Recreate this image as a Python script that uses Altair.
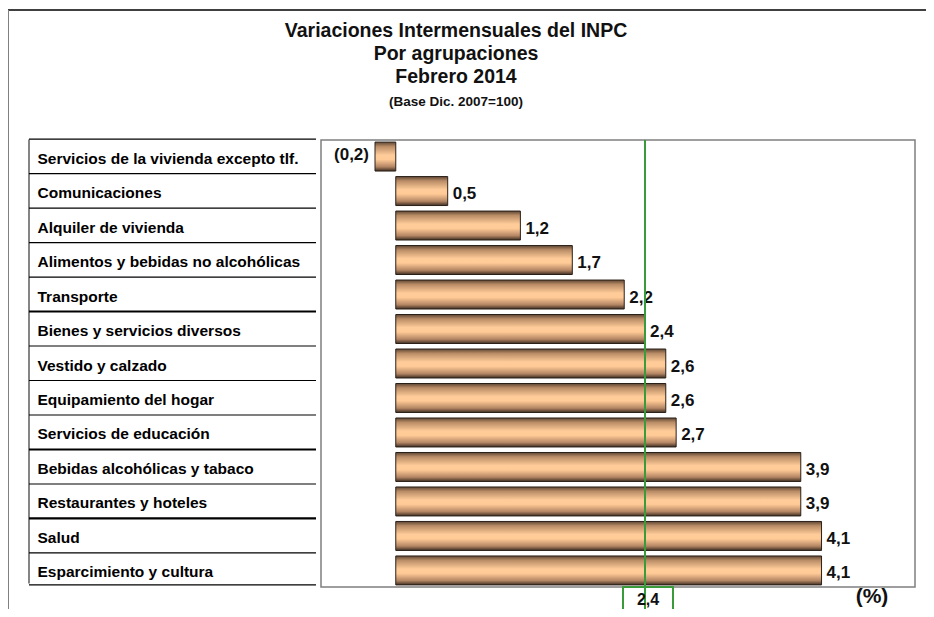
import altair as alt
import pandas as pd

# ---- data ----
categorias = [
    "Servicios de la vivienda excepto tlf.",
    "Comunicaciones",
    "Alquiler de vivienda",
    "Alimentos y bebidas no alcohólicas",
    "Transporte",
    "Bienes  y servicios diversos",
    "Vestido y calzado",
    "Equipamiento del hogar",
    "Servicios de educación",
    "Bebidas alcohólicas y tabaco",
    "Restaurantes y hoteles",
    "Salud",
    "Esparcimiento y cultura",
]
variaciones = [-0.2, 0.5, 1.2, 1.7, 2.2, 2.4, 2.6, 2.6, 2.7, 3.9, 3.9, 4.1, 4.1]
promedio = 2.4
titulos = ["Variaciones Intermensuales del INPC", "Por agrupaciones", "Febrero 2014"]
subtitulo = "(Base Dic. 2007=100)"
unidad = "(%)"


def fmt(v):
    s = f"{abs(v):.1f}".replace(".", ",")
    return f"({s})" if v < 0 else s


df = pd.DataFrame({"cat": categorias, "val": variaciones})
df["label"] = [fmt(v) for v in variaciones]
df["pos"] = df["val"] >= 0

thick_rows = ["Bienes  y servicios diversos", "Bebidas alcohólicas y tabaco", "Salud"]
df["lw"] = [2.2 if c in thick_rows else 1.2 for c in categorias]

W, H = 594, 447
FONT = "Liberation Sans"
NARROW = "'Liberation Sans Narrow', 'Arial Narrow', 'Liberation Sans', sans-serif"
GREEN = "#3a9b3a"

xs = alt.Scale(domain=[-0.72, 5.0], nice=False, zero=False)
ys = alt.Scale(domain=categorias, paddingInner=0.16, paddingOuter=0.06)

X = alt.X("val:Q", scale=xs, axis=None)
Y = alt.Y(
    "cat:N",
    scale=ys,
    sort=categorias,
    title=None,
    axis=alt.Axis(
        orient="left",
        domain=False,
        ticks=False,
        tickSize=0,
        labelAlign="left",
        labelBaseline="middle",
        labelPadding=284,
        labelLimit=320,
        labelFont=FONT,
        labelFontSize=15.5,
        labelFontWeight="bold",
        labelColor="#000000",
        labelOffset=2,
        grid=False,
    ),
)

grad = alt.Gradient(
    gradient="linear",
    x1=0, x2=0, y1=0, y2=1,
    stops=[
        alt.GradientStop(color="#5e4634", offset=0),
        alt.GradientStop(color="#b98c66", offset=0.15),
        alt.GradientStop(color="#ffcc99", offset=0.45),
        alt.GradientStop(color="#ffca96", offset=0.6),
        alt.GradientStop(color="#b48664", offset=0.85),
        alt.GradientStop(color="#3e2e22", offset=1),
    ],
)

base = alt.Chart(df)

bars = base.mark_bar(color=grad, stroke="#2b2018", strokeWidth=1).encode(
    x=X, x2=alt.datum(0), y=Y
)

lab_pos = base.transform_filter("datum.pos").mark_text(
    align="left", baseline="middle", dx=5, dy=3, font=FONT, fontSize=17, fontWeight="bold", color="#111111"
).encode(x=X, y=alt.Y("cat:N", scale=ys, sort=categorias), text="label:N")

lab_neg = base.transform_filter("!datum.pos").mark_text(
    align="right", baseline="middle", dx=-6, dy=-2, font=FONT, fontSize=17, fontWeight="bold", color="#111111"
).encode(x=X, y=alt.Y("cat:N", scale=ys, sort=categorias), text="label:N")

# table lines
table_lines = base.mark_rule(color="#000000", yOffset=-3).encode(
    y=alt.Y("cat:N", scale=ys, sort=categorias, bandPosition=0),
    x=alt.value(-292),
    x2=alt.value(-5),
    strokeWidth=alt.StrokeWidth("lw:Q", scale=None, legend=None),
)
table_bottom = base.transform_filter(alt.datum.cat == categorias[-1]).mark_rule(
    color="#000000", strokeWidth=1.2
).encode(
    y=alt.Y("cat:N", scale=ys, sort=categorias, bandPosition=1),
    x=alt.value(-292),
    x2=alt.value(-5),
)

one = pd.DataFrame({"a": [0]})
deco = alt.Chart(one)

table_left = deco.mark_rule(color="#333333", strokeWidth=1.2).encode(
    x=alt.value(-292), y=alt.value(-0.5), y2=alt.value(443.5)
)
frame_top = deco.mark_rule(color="#000000", strokeWidth=1.5).encode(
    x=alt.value(-313), x2=alt.value(605), y=alt.value(-130)
)
frame_left = deco.mark_rule(color="#808080", strokeWidth=2).encode(
    x=alt.value(-313), y=alt.value(-130), y2=alt.value(480)
)

avg_rule = deco.mark_rule(color=GREEN, strokeWidth=2).encode(
    x=alt.datum(promedio, scale=xs), y=alt.value(0), y2=alt.value(480)
)
avg_box = deco.mark_rect(
    fill=None, filled=False, stroke=GREEN, strokeWidth=2, xOffset=-22, x2Offset=28
).encode(
    x=alt.datum(promedio, scale=xs), x2=alt.datum(promedio), y=alt.value(447), y2=alt.value(490)
)
avg_text = deco.mark_text(
    align="center", baseline="middle", xOffset=3, font=FONT, fontSize=16, fontWeight="bold", color="#111111"
).encode(x=alt.datum(promedio, scale=xs), y=alt.value(460), text=alt.value(fmt(promedio)))

pct = deco.mark_text(
    align="center", baseline="middle", font=FONT, fontSize=21, fontWeight="bold", color="#111111"
).encode(x=alt.value(551), y=alt.value(457), text=alt.value(unidad))

title_layers = []
for t, yy in zip(titulos, [-109, -86, -63]):
    title_layers.append(
        deco.mark_text(
            align="center", baseline="middle", font=NARROW, fontSize=19.5, fontWeight="bold", color="#111111"
        ).encode(x=alt.value(135), y=alt.value(yy), text=alt.value(t))
    )
title_layers.append(
    deco.mark_text(
        align="center", baseline="middle", font=NARROW, fontSize=13.5, fontWeight="bold", color="#111111"
    ).encode(x=alt.value(135), y=alt.value(-38), text=alt.value(subtitulo))
)

chart = (
    alt.layer(
        frame_top, frame_left, table_left, table_lines, table_bottom,
        bars, lab_pos, lab_neg, avg_rule, avg_box, avg_text, pct, *title_layers
    )
    .properties(
        width=W,
        height=H,
        autosize=alt.AutoSizeParams(type="none"),
        padding={"left": 313, "top": 132, "right": 11, "bottom": 22},
    )
    .configure_view(stroke="#7f7f7f", strokeWidth=1.5)
)

chart.save("out.html", embed_options={"renderer": "svg", "actions": False})
